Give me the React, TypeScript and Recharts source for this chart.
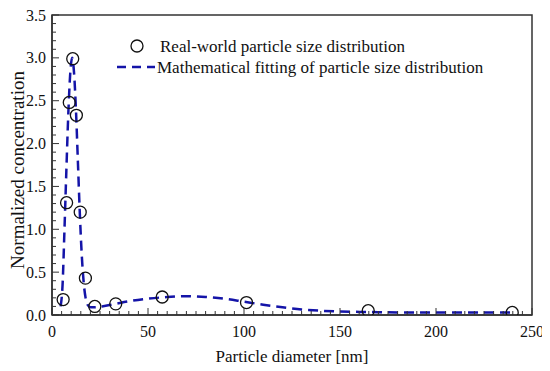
import React from 'react';
import { ComposedChart, Line, Scatter, XAxis, YAxis, ReferenceArea } from 'recharts';

const FONT = "'Liberation Serif', 'Times New Roman', 'DejaVu Serif', serif";
const BLUE = '#1414a8';

// measured points (circles)
const measuredX = [5.8, 7.6, 9.0, 10.8, 12.7, 14.7, 17.4, 22.3, 33.2, 57.4, 101.3, 164.7, 239.7];
const measuredY = [0.18, 1.31, 2.48, 2.99, 2.33, 1.2, 0.43, 0.1, 0.13, 0.21, 0.145, 0.05, 0.03];

// fitted curve (dashed)
const fitX = [4.5, 5.5, 6.5, 7.5, 8.5, 9.5, 10.5, 11.5, 12.5, 13.5, 14.5, 15.5, 16.5, 17.5, 18.5, 20, 22, 26, 33, 40, 50, 60, 70, 80, 90, 100, 110, 120, 130, 140, 150, 165, 180, 200, 220, 240];
const fitY = [0.1, 0.35, 1.0, 1.7, 2.35, 2.82, 3.0, 2.82, 2.38, 1.78, 1.18, 0.7, 0.38, 0.2, 0.12, 0.09, 0.09, 0.1, 0.13, 0.16, 0.19, 0.21, 0.22, 0.21, 0.19, 0.155, 0.12, 0.09, 0.065, 0.05, 0.04, 0.035, 0.03, 0.03, 0.03, 0.03];

const xMajor = [0, 50, 100, 150, 200, 250];
const yMajor = [0, 0.5, 1, 1.5, 2, 2.5, 3, 3.5];
const xTicks = Array.from({ length: 51 }, (_, i) => i * 5);
const yTicks = Array.from({ length: 36 }, (_, i) => i / 10);

const measured = measuredX.map((x, i) => ({ x, y: measuredY[i] }));
const fit = fitX.map((x, i) => ({ x, y: fitY[i] }));

const textStyle = { fontFamily: FONT, fill: '#111' };

const XTick = (props: any) => {
  const { x, y, payload } = props;
  const v = payload.value;
  const major = xMajor.includes(v);
  return (
    <g>
      <line x1={x} x2={x} y1={y} y2={y - (major ? 7 : 4)} stroke="#333" strokeWidth={1} />
      {major && (
        <text x={x} y={y + 22} textAnchor="middle" style={{ ...textStyle, fontSize: 16 }}>
          {v}
        </text>
      )}
    </g>
  );
};

const YTick = (props: any) => {
  const { x, y, payload } = props;
  const v = payload.value;
  const major = yMajor.includes(v);
  return (
    <g>
      <line x1={x} x2={x + (major ? 7 : 4)} y1={y} y2={y} stroke="#333" strokeWidth={1} />
      {major && (
        <text x={x - 6} y={y + 5.5} textAnchor="end" style={{ ...textStyle, fontSize: 16 }}>
          {v.toFixed(1)}
        </text>
      )}
    </g>
  );
};

const YTitle = (props: any) => {
  const vb = props.viewBox;
  const cx = vb.x + 16;
  const cy = vb.y + vb.height / 2 + 5;
  return (
    <text transform={`translate(${cx},${cy}) rotate(-90)`} textAnchor="middle" style={{ ...textStyle, fontSize: 19 }}>
      Normalized concentration
    </text>
  );
};

const Circle = (props: any) => (
  <circle cx={props.cx} cy={props.cy} r={6} fill="none" stroke="#111" strokeWidth={1.3} />
);

export default function App() {
  return (
    <div style={{ position: 'relative', width: 542, height: 360 }}>
      <ComposedChart width={542} height={360} margin={{ top: 7, right: 18, left: 0, bottom: 0 }}>
        <XAxis
          type="number"
          dataKey="x"
          domain={[0, 250]}
          ticks={xTicks}
          interval={0}
          tick={<XTick />}
          tickLine={false}
          tickSize={0}
          tickMargin={0}
          height={53}
          axisLine={{ stroke: '#333', strokeWidth: 1.5 }}
          allowDataOverflow
          label={{ value: 'Particle diameter [nm]', position: 'insideBottom', offset: 6, style: { ...textStyle, fontSize: 17 } }}
        />
        <YAxis
          type="number"
          dataKey="y"
          domain={[0, 3.5]}
          ticks={yTicks}
          interval={0}
          tick={<YTick />}
          tickLine={false}
          tickSize={0}
          tickMargin={0}
          width={44}
          axisLine={{ stroke: '#333', strokeWidth: 1.5 }}
          allowDataOverflow
          label={{ content: YTitle }}
        />
        <ReferenceArea x1={0} x2={250} y1={0} y2={3.5} fill="none" stroke="#333" strokeWidth={1.5} ifOverflow="visible" />
        <Line data={fit} dataKey="y" type="monotone" stroke={BLUE} strokeWidth={2.5} strokeDasharray="10 6" dot={false} isAnimationActive={false} />
        <Scatter data={measured} dataKey="y" shape={<Circle />} isAnimationActive={false} />
      </ComposedChart>
      <svg width={440} height={50} style={{ position: 'absolute', left: 100, top: 26 }}>
        <circle cx={29} cy={12} r={6} fill="none" stroke="#111" strokeWidth={1.3} />
        <text x={52} y={18} style={{ ...textStyle, fontSize: 17 }}>Real-world particle size distribution</text>
        <line x1={9} x2={47} y1={33} y2={33} stroke={BLUE} strokeWidth={2.5} strokeDasharray="9 6" />
        <text x={49} y={39} style={{ ...textStyle, fontSize: 17 }}>Mathematical fitting of particle size distribution</text>
      </svg>
    </div>
  );
}
